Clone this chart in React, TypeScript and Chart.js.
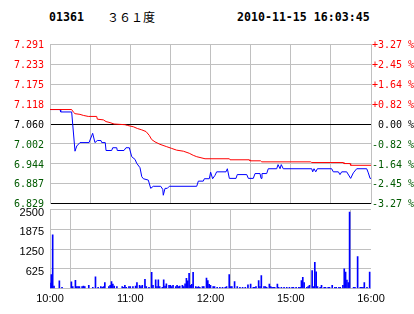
import React, { useEffect, useRef } from 'react';
import { Chart, registerables } from 'chart.js';

Chart.register(...registerables);

// ---- header texts ----
const stockCode = '01361';
const stockName = '３６１度';
const timestamp = '2010-11-15 16:03:45';

// ---- axis labels (top to bottom) ----
const priceTickLabels = ['7.291', '7.233', '7.175', '7.118', '7.060', '7.002', '6.944', '6.887', '6.829'];
const pctTickLabels = ['+3.27 %', '+2.45 %', '+1.64 %', '+0.82 %', ' 0.00 %', '-0.82 %', '-1.64 %', '-2.45 %', '-3.27 %'];
const tickColors = ['#ff0000', '#ff0000', '#ff0000', '#ff0000', '#000000', '#005a00', '#005a00', '#005a00', '#005a00'];
const volumeTickLabels = ['2500', '1875', '1250', '625', ''];
const volumeTickValues = [2500, 1875, 1250, 625, 0];
// session minutes (10:00–12:30, 14:30–16:00) at every half hour
const gridMinutes = [0, 30, 60, 90, 120, 150, 180, 210, 240];
const axisTimeLabels = ['10:00', '', '11:00', '', '12:00', '', '15:00', '', '16:00'];

// ---- last price (blue) ----
const priceMinutes = [0, 7.5, 8, 16.2, 18.7, 20, 22.4, 29.2, 31.9, 33.6, 35.4, 38.1, 38.7, 41.3, 41.9, 46.1, 46.9, 49.9, 50.3, 55.3, 56.8, 59.3, 61.1, 63.6, 64.8, 67.3, 68.6, 69.8, 73.5, 75.3, 77.2, 82.8, 84.3, 84.7, 86, 87.7, 89.2, 109.7, 110.9, 114.6, 115.4, 119.1, 120.1, 121.6, 123.4, 124.6, 131.6, 132.6, 134.1, 139.1, 140, 147.1, 148.3, 152, 153.3, 157, 157.8, 158.5, 162, 163.2, 169.5, 170.5, 172, 172.9, 174.4, 195.7, 196.4, 197.4, 198.7, 199.9, 210.6, 211.8, 215.6, 216.8, 218.1, 221.8, 224.8, 226.8, 229.3, 236.8, 238, 239.3, 240];
const priceValues = [7.102, 7.102, 7.095, 7.095, 6.981, 6.996, 7.006, 7.006, 7.033, 7.006, 7.012, 7.012, 7.006, 7.006, 6.983, 6.983, 6.991, 6.991, 6.983, 6.983, 6.991, 6.991, 6.965, 6.957, 6.946, 6.933, 6.907, 6.901, 6.897, 6.873, 6.879, 6.879, 6.870, 6.853, 6.873, 6.873, 6.879, 6.879, 6.894, 6.894, 6.901, 6.901, 6.920, 6.901, 6.911, 6.921, 6.921, 6.930, 6.902, 6.902, 6.913, 6.913, 6.902, 6.902, 6.916, 6.916, 6.902, 6.916, 6.916, 6.930, 6.930, 6.942, 6.930, 6.942, 6.930, 6.930, 6.921, 6.930, 6.921, 6.930, 6.930, 6.921, 6.921, 6.913, 6.921, 6.921, 6.902, 6.918, 6.930, 6.930, 6.918, 6.902, 6.902];

// ---- average price (red) ----
const avgMinutes = [0, 16.2, 17.4, 18.7, 22.4, 24.9, 28.6, 34.9, 35.4, 39.9, 41.9, 44.9, 47.9, 56.1, 57.8, 62.3, 65.3, 68.6, 71.8, 74.2, 76, 78.5, 82.2, 87.3, 91, 94.7, 99.7, 104.1, 107.1, 109.7, 115.9, 134.1, 134.6, 149, 149.5, 157.5, 158.3, 194.9, 195.7, 219.3, 219.8, 224.3, 224.8, 240];
const avgValues = [7.102, 7.102, 7.095, 7.090, 7.088, 7.085, 7.082, 7.082, 7.074, 7.072, 7.067, 7.064, 7.060, 7.058, 7.056, 7.052, 7.047, 7.043, 7.038, 7.027, 7.015, 7.008, 7.001, 6.994, 6.989, 6.984, 6.981, 6.975, 6.969, 6.965, 6.959, 6.959, 6.956, 6.956, 6.953, 6.953, 6.950, 6.950, 6.948, 6.948, 6.945, 6.945, 6.940, 6.940];

// ---- volume ----
const volumeMinutes = [0, 1, 2, 3, 7, 9, 16, 17, 19, 20, 21, 22, 24, 25, 26, 29, 32, 34, 36, 38, 39, 40, 41, 44, 45, 46, 47, 48, 50, 54, 55, 56, 57, 59, 60, 62, 64, 65, 67, 68, 69, 71, 72, 74, 76, 77, 79, 80, 81, 82, 84, 85, 86, 87, 89, 90, 91, 92, 94, 95, 96, 97, 99, 100, 101, 102, 103, 104, 105, 106, 107, 109, 110, 111, 112, 114, 115, 117, 118, 119, 120, 122, 123, 125, 127, 129, 131, 132, 134, 135, 136, 138, 140, 142, 144, 146, 148, 150, 152, 153, 154, 156, 157, 158, 160, 161, 162, 164, 165, 166, 167, 168, 170, 171, 173, 175, 177, 179, 181, 182, 184, 186, 187, 188, 189, 190, 192, 193, 194, 196, 197, 198, 199, 200, 202, 203, 205, 206, 208, 209, 211, 213, 214, 216, 217, 219, 220, 221, 222, 223, 224, 227, 228, 230, 232, 233, 234, 235, 237, 239];
const volumeValues = [170, 440, 1700, 80, 245, 40, 210, 60, 260, 60, 60, 60, 60, 80, 60, 100, 40, 370, 40, 60, 40, 60, 190, 60, 100, 220, 140, 80, 60, 60, 40, 100, 40, 60, 60, 60, 80, 190, 100, 60, 100, 290, 60, 40, 510, 100, 275, 60, 275, 60, 40, 275, 80, 150, 100, 100, 60, 100, 60, 100, 60, 80, 100, 60, 150, 320, 240, 480, 100, 130, 510, 60, 40, 60, 40, 60, 60, 330, 250, 130, 100, 60, 60, 40, 40, 40, 40, 60, 440, 60, 60, 220, 60, 40, 40, 40, 120, 140, 40, 40, 60, 250, 60, 410, 60, 60, 40, 140, 60, 40, 40, 40, 140, 40, 40, 40, 40, 40, 40, 40, 40, 40, 40, 250, 350, 190, 40, 60, 100, 570, 60, 830, 530, 60, 40, 100, 40, 40, 40, 40, 100, 40, 40, 40, 40, 100, 620, 520, 270, 190, 2420, 40, 40, 1010, 40, 40, 40, 190, 40, 520];

const GRID = '#c0c0c0';
const N = priceTickLabels.length;
const priceTicks = priceTickLabels.map(Number);
const priceMin = Math.min(...priceTicks);
const priceMax = Math.max(...priceTicks);

const setTicks = (vals: number[]) => (s: any) => {
  s.ticks = vals.slice().sort((a, b) => a - b).map((v) => ({ value: v }));
};

function PriceChart() {
  const ref = useRef<HTMLCanvasElement>(null);
  useEffect(() => {
    if (!ref.current) return;
    const chart = new Chart(ref.current, {
      type: 'line',
      data: {
        datasets: [
          {
            data: avgMinutes.map((m, i) => ({ x: m, y: avgValues[i] })),
            borderColor: '#ff0000',
            borderWidth: 1,
            pointRadius: 0,
            tension: 0,
          },
          {
            data: priceMinutes.map((m, i) => ({ x: m, y: priceValues[i] })),
            borderColor: '#0000ff',
            borderWidth: 1,
            pointRadius: 0,
            tension: 0,
          },
        ],
      },
      options: {
        animation: false,
        responsive: false,
        maintainAspectRatio: false,
        layout: { padding: { top: 44.5, bottom: 26.5, left: 0, right: 0 } },
        plugins: { legend: { display: false }, tooltip: { enabled: false } },
        scales: {
          x: {
            type: 'linear',
            min: 0,
            max: 240,
            afterBuildTicks: setTicks(gridMinutes),
            ticks: { display: false },
            grid: { color: GRID, drawTicks: false },
            border: { display: false },
            afterFit: (s: any) => { s.height = 0; },
          },
          y: {
            position: 'left',
            min: priceMin,
            max: priceMax,
            afterBuildTicks: setTicks(priceTicks),
            ticks: {
              autoSkip: false,
              callback: (_v: any, i: number) => priceTickLabels[N - 1 - i],
              color: (c: any) => tickColors[N - 1 - c.index],
              font: { family: 'DejaVu Sans Mono', size: 10 },
              padding: 6,
              labelOffset: 1,
            },
            grid: {
              color: (c: any) => (c.index === 0 || c.index === 4 ? '#000000' : GRID),
              drawTicks: false,
            },
            border: { color: GRID },
            afterFit: (s: any) => { s.width = 50; },
          },
          y2: {
            position: 'right',
            min: priceMin,
            max: priceMax,
            afterBuildTicks: setTicks(priceTicks),
            ticks: {
              autoSkip: false,
              callback: (_v: any, i: number) => pctTickLabels[N - 1 - i],
              color: (c: any) => tickColors[N - 1 - c.index],
              font: { family: 'DejaVu Sans Mono', size: 10 },
              padding: 1,
              labelOffset: 1,
            },
            grid: { display: false, drawTicks: false },
            border: { color: GRID },
            afterFit: (s: any) => { s.width = 43; },
          },
        },
      } as any,
    });
    return () => chart.destroy();
  }, []);
  return <canvas ref={ref} width={414} height={230} style={{ position: 'absolute', left: 0, top: 0, width: 414, height: 230 }} />;
}

function VolumeChart() {
  const ref = useRef<HTMLCanvasElement>(null);
  useEffect(() => {
    if (!ref.current) return;
    const VN = volumeTickLabels.length;
    const chart = new Chart(ref.current, {
      type: 'bar',
      data: {
        datasets: [
          {
            data: volumeMinutes.map((m, i) => ({ x: m, y: volumeValues[i] })),
            backgroundColor: '#0000ff',
            borderWidth: 0,
            barThickness: 1,
          },
        ],
      },
      options: {
        animation: false,
        responsive: false,
        maintainAspectRatio: false,
        layout: { padding: { top: 19.5, bottom: 0, left: 0, right: 43 } },
        plugins: { legend: { display: false }, tooltip: { enabled: false } },
        scales: {
          x: {
            type: 'linear',
            min: 0,
            max: 240,
            offset: false,
            afterBuildTicks: setTicks(gridMinutes),
            ticks: {
              autoSkip: false,
              maxRotation: 0,
              callback: (_v: any, i: number) => axisTimeLabels[i],
              color: '#000000',
              font: { family: 'Liberation Sans', size: 11 },
              padding: 4,
            },
            grid: { color: GRID, drawTicks: false },
            border: { display: false },
            afterFit: (s: any) => { s.height = 25.5; },
          },
          y: {
            position: 'left',
            min: 0,
            max: Math.max(...volumeTickValues),
            afterBuildTicks: setTicks(volumeTickValues),
            ticks: {
              autoSkip: false,
              callback: (_v: any, i: number) => volumeTickLabels[VN - 1 - i],
              color: '#000000',
              font: { family: 'Liberation Sans', size: 11 },
              padding: 6,
              labelOffset: 3,
            },
            grid: { color: GRID, drawTicks: false },
            border: { color: GRID },
            afterFit: (s: any) => { s.width = 50; },
          },
        },
      } as any,
    });
    return () => chart.destroy();
  }, []);
  return <canvas ref={ref} width={414} height={124} style={{ position: 'absolute', left: 0, top: 190, width: 414, height: 124 }} />;
}

export default function App() {
  const mono: React.CSSProperties = {
    position: 'absolute',
    fontFamily: '"DejaVu Sans Mono", monospace',
    fontWeight: 'bold',
    fontSize: '11.6px',
    lineHeight: '14px',
    top: 10,
    color: '#000',
    whiteSpace: 'pre',
  };
  return (
    <div style={{ position: 'fixed', left: 0, top: 0, width: 414, height: 314, background: '#fff', overflow: 'hidden' }}>
      <div style={{ ...mono, left: 49 }}>{stockCode}</div>
      <div
        style={{
          position: 'absolute',
          left: 107,
          top: 9,
          fontFamily: '"Noto Sans CJK SC", sans-serif',
          fontSize: '12px',
          lineHeight: '16px',
          color: '#000',
          whiteSpace: 'pre',
        }}
      >
        {stockName}
      </div>
      <div style={{ ...mono, left: 237 }}>{timestamp}</div>
      <PriceChart />
      <VolumeChart />
    </div>
  );
}
